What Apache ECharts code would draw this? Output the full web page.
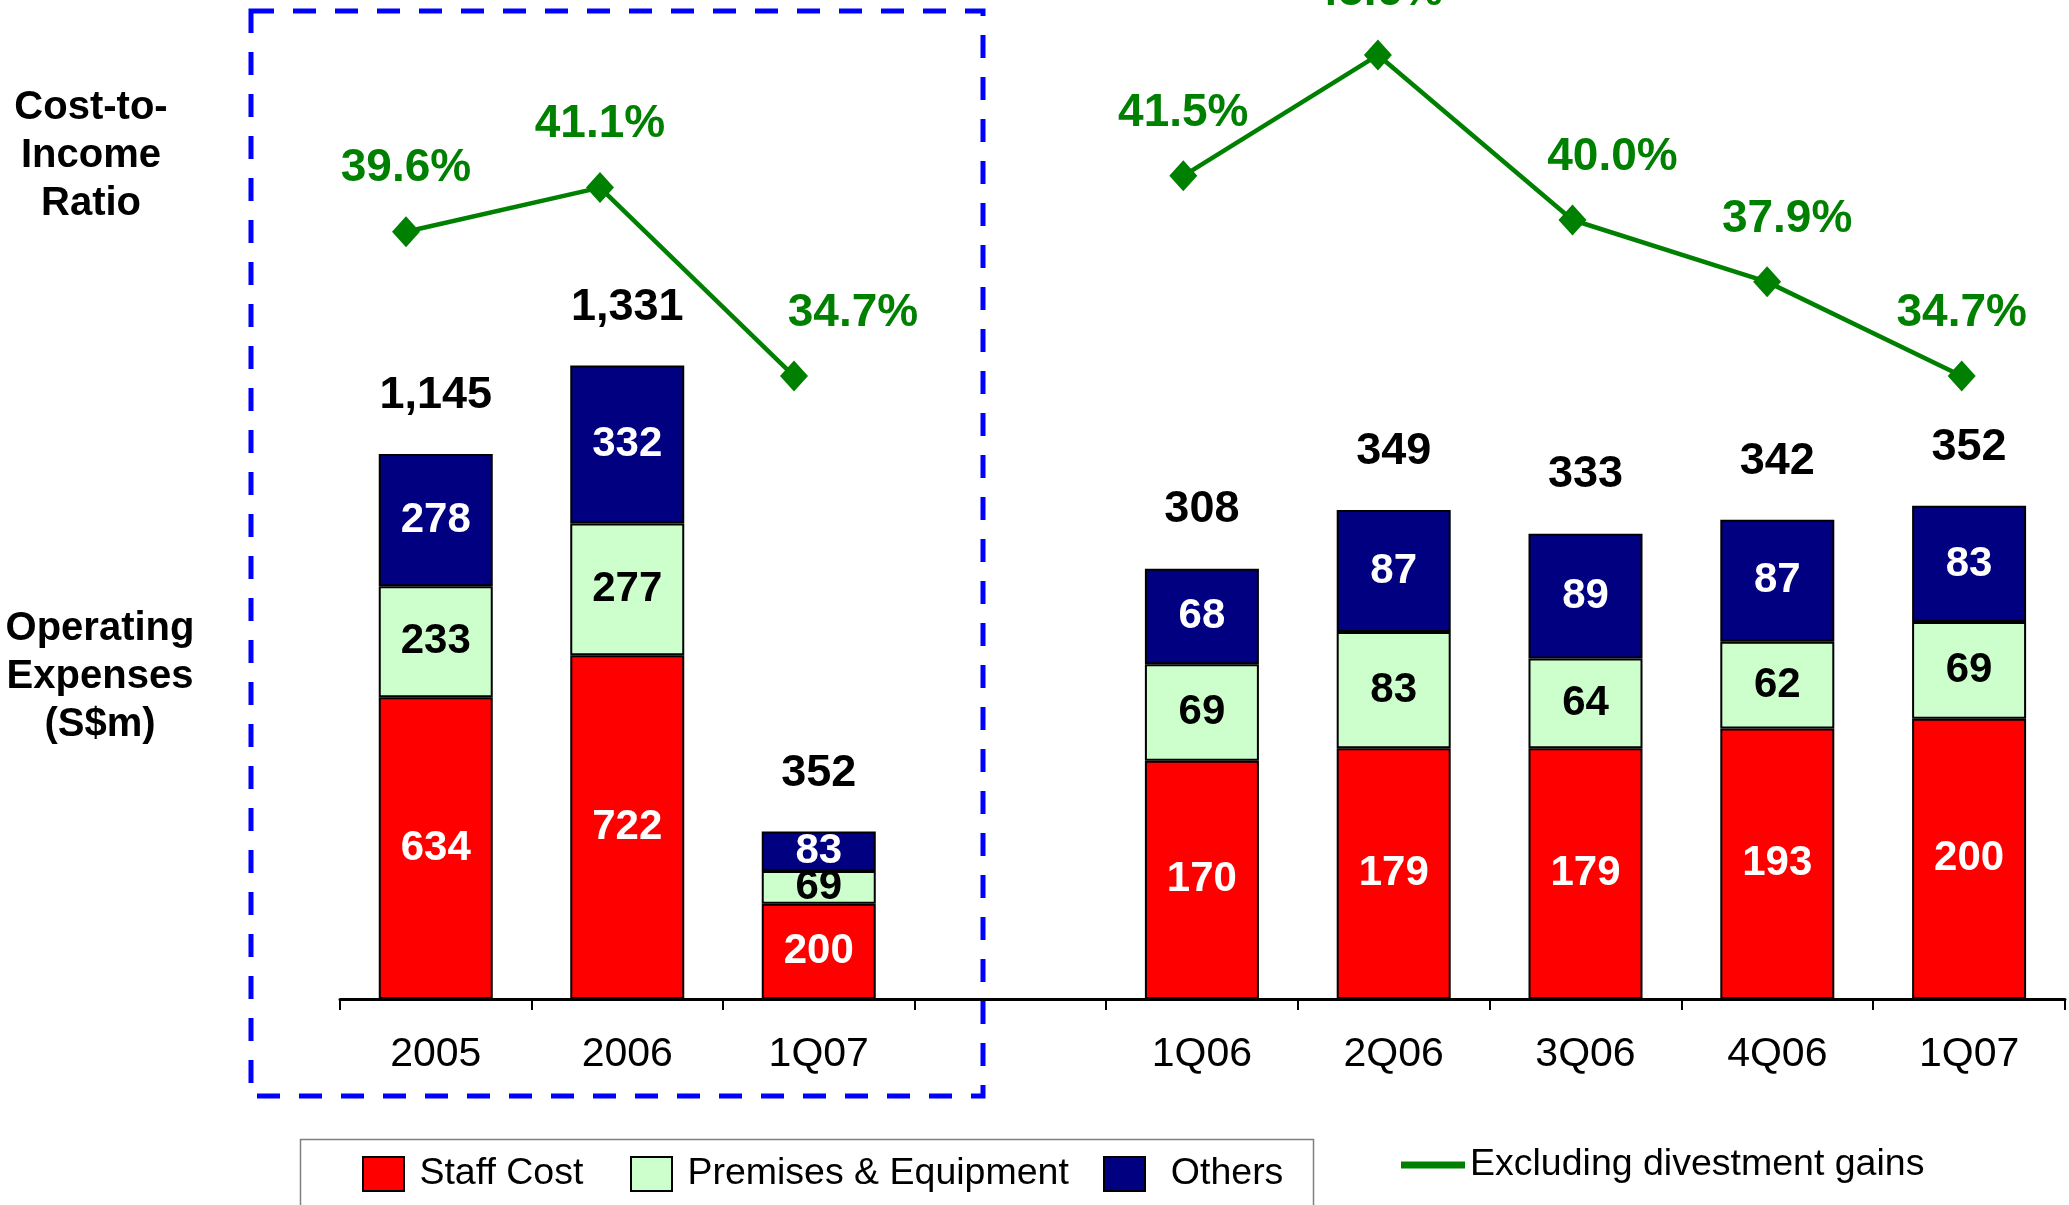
<!DOCTYPE html>
<html>
<head>
<meta charset="utf-8">
<script src="https://cdn.jsdelivr.net/npm/echarts@6/dist/echarts.min.js"></script>
<style>
  html, body { margin: 0; padding: 0; background: #fff; }
  #chart { width: 2069px; height: 1205px; }
</style>
</head>
<body>
<div id="chart"></div>
<script>
  // annual panel (inside the dashed box)
  const annualCats = ['2005', '2006', '1Q07', ''];
  const annualStaff = [634, 722, 200];
  const annualPremises = [233, 277, 69];
  const annualOthers = [278, 332, 83];
  const annualTotal = [1145, 1331, 352];
  const annualRatio = [39.6, 41.1, 34.7];

  // quarterly panel
  const quarterCats = ['1Q06', '2Q06', '3Q06', '4Q06', '1Q07'];
  const quarterStaff = [170, 179, 179, 193, 200];
  const quarterPremises = [69, 83, 64, 62, 69];
  const quarterOthers = [68, 87, 89, 87, 83];
  const quarterTotal = [308, 349, 333, 342, 352];
  const quarterRatio = [41.5, 45.6, 40.0, 37.9, 34.7];

  const FONT = 'Liberation Sans, Arial, sans-serif';
  const RED = '#ff0000', GREEN_BAR = '#ccffcc', NAVY = '#000080', LINE = '#008000';

  // label nudges for the ratio labels (px to the right)
  const annualPctDx = [0, 0, 59];
  const quarterPctDx = [0, 0, 40, 20, 0];

  function barSeries(name, data, color, labelColor, axis) {
    return {
      name: name,
      type: 'bar',
      stack: 'cost' + axis,
      xAxisIndex: axis,
      yAxisIndex: axis,
      barWidth: 114,
      data: data,
      itemStyle: { color: color, borderColor: '#000', borderWidth: 2 },
      label: {
        show: true,
        position: 'inside',
        color: labelColor,
        fontSize: 42,
        fontWeight: 'bold',
        fontFamily: FONT
      },
      emphasis: { disabled: true }
    };
  }

  function totalSeries(data, axis) {
    return {
      type: 'scatter',
      xAxisIndex: axis,
      yAxisIndex: axis,
      symbolSize: 1,
      itemStyle: { color: 'transparent', opacity: 1 },
      data: data,
      label: {
        show: true,
        position: 'inside',
        offset: [0, -58],
        color: '#000',
        fontSize: 45,
        fontWeight: 'bold',
        fontFamily: FONT,
        formatter: function (p) {
          return p.value.toLocaleString('en-US');
        }
      },
      emphasis: { disabled: true },
      z: 5
    };
  }

  // the ratio line sits on its own slightly shifted grid, as in the slide
  function ratioSeries(data, dx, grid) {
    return {
      name: 'Excluding divestment gains',
      type: 'line',
      xAxisIndex: grid,
      yAxisIndex: grid,
      symbol: 'diamond',
      symbolSize: [28, 31],
      lineStyle: { color: LINE, width: 4.5 },
      itemStyle: { color: LINE, opacity: 1 },
      data: data.map(function (v, i) {
        return { value: v, label: { offset: [dx[i], -63] } };
      }),
      label: {
        show: true,
        position: 'inside',
        color: LINE,
        fontSize: 46,
        fontWeight: 'bold',
        fontFamily: FONT,
        formatter: function (p) {
          return p.value.toFixed(1) + '%';
        }
      },
      emphasis: { disabled: true },
      z: 10
    };
  }

  const catAxis = function (grid, cats) {
    return {
      type: 'category',
      gridIndex: grid,
      data: cats,
      axisLine: { lineStyle: { color: '#000', width: 3 } },
      axisTick: { show: true, length: 11, lineStyle: { color: '#000', width: 2 } },
      axisLabel: { color: '#000', fontSize: 41, fontFamily: FONT, margin: 35 },
      splitLine: { show: false }
    };
  };

  const hiddenCatAxis = function (grid, cats) {
    return { type: 'category', gridIndex: grid, data: cats, show: false };
  };

  const valAxis = function (grid, min, max) {
    return { type: 'value', gridIndex: grid, min: min, max: max, show: false, splitLine: { show: false } };
  };

  const legendBase = {
    top: 1155,
    padding: 0,
    selectedMode: false,
    icon: 'rect',
    itemWidth: 41,
    itemHeight: 34,
    textStyle: { color: '#000', fontSize: 37.5, fontFamily: FONT }
  };

  const chart = echarts.init(document.getElementById('chart'));
  chart.setOption({
    animation: false,
    backgroundColor: '#fff',
    grid: [
      { left: 340, top: 0, width: 766, height: 999, outerBoundsMode: 'none' },
      { left: 1106, top: 0, width: 959, height: 999, outerBoundsMode: 'none' },
      { left: 309, top: 0, width: 776, height: 999, outerBoundsMode: 'none' },
      { left: 1086, top: 0, width: 973, height: 999, outerBoundsMode: 'none' }
    ],
    xAxis: [
      catAxis(0, annualCats),
      catAxis(1, quarterCats),
      hiddenCatAxis(2, annualCats),
      hiddenCatAxis(3, quarterCats)
    ],
    yAxis: [
      valAxis(0, 0, 2099),
      valAxis(1, 0, 713),
      valAxis(2, 13.55, 47.47),
      valAxis(3, 13.55, 47.47)
    ],
    legend: [
      Object.assign({}, legendBase, { left: 362, data: ['Staff Cost'], formatter: ' {name}' }),
      Object.assign({}, legendBase, { left: 630, data: ['Premises & Equipment'], formatter: ' {name}' }),
      Object.assign({}, legendBase, { left: 1103, data: ['Others'], formatter: '  {name}' }),
      Object.assign({}, legendBase, {
        left: 1401, top: 1146, itemWidth: 64, itemHeight: 7,
        data: ['Excluding divestment gains']
      })
    ],
    graphic: [
      {
        type: 'text', x: 91, y: 156,
        style: {
          text: 'Cost-to-\nIncome\nRatio', fill: '#000', fontSize: 40, fontWeight: 'bold',
          fontFamily: FONT, align: 'center', verticalAlign: 'middle', lineHeight: 48
        }
      },
      {
        type: 'text', x: 100, y: 677,
        style: {
          text: 'Operating\nExpenses\n(S$m)', fill: '#000', fontSize: 40, fontWeight: 'bold',
          fontFamily: FONT, align: 'center', verticalAlign: 'middle', lineHeight: 48
        }
      },
      {
        type: 'rect', z: 100,
        shape: { x: 251, y: 11, width: 732, height: 1085 },
        style: { fill: 'none', stroke: '#0000ff', lineWidth: 5, lineDash: [23, 19] }
      },
      {
        type: 'rect', z: 1,
        shape: { x: 300.5, y: 1139.5, width: 1013, height: 100 },
        style: { fill: 'none', stroke: '#7f7f7f', lineWidth: 1.5 }
      }
    ],
    series: [
      barSeries('Staff Cost', annualStaff, RED, '#fff', 0),
      barSeries('Premises & Equipment', annualPremises, GREEN_BAR, '#000', 0),
      barSeries('Others', annualOthers, NAVY, '#fff', 0),
      totalSeries(annualTotal, 0),
      ratioSeries(annualRatio, annualPctDx, 2),
      barSeries('Staff Cost', quarterStaff, RED, '#fff', 1),
      barSeries('Premises & Equipment', quarterPremises, GREEN_BAR, '#000', 1),
      barSeries('Others', quarterOthers, NAVY, '#fff', 1),
      totalSeries(quarterTotal, 1),
      ratioSeries(quarterRatio, quarterPctDx, 3)
    ]
  });
</script>
</body>
</html>
